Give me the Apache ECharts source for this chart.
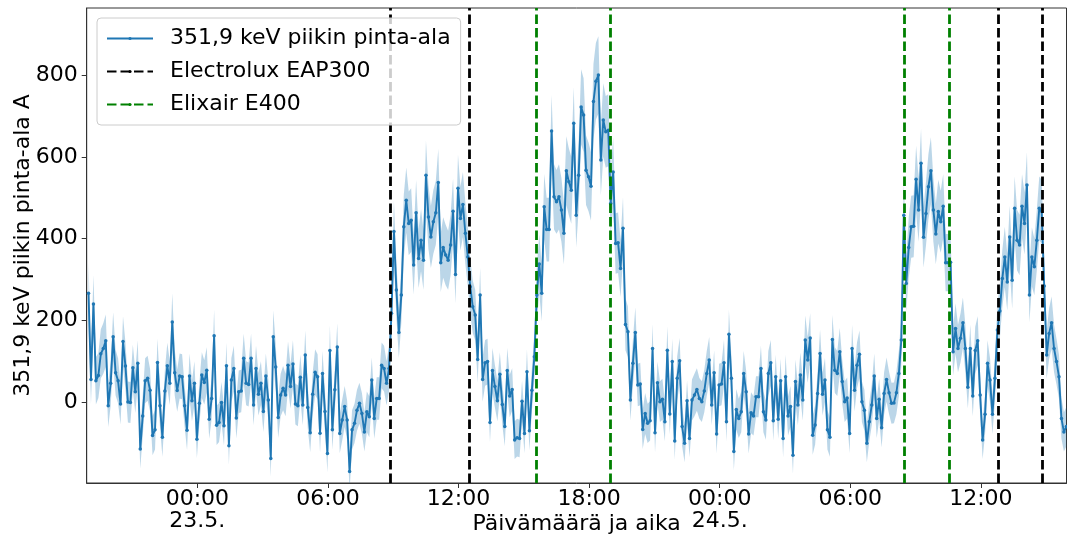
<!DOCTYPE html>
<html><head><meta charset="utf-8">
<script src="https://cdn.jsdelivr.net/npm/echarts@6/dist/echarts.min.js"></script>
<style>html,body{margin:0;padding:0;background:#fff}#c{width:1067px;height:537px}</style>
</head><body><div id="c"></div>
<script>
// ---- data ----
const firstSample = '22.5. 19:00';
const sampleStepMinutes = 6.79;
const axisStart = '22.5. 18:55';
const axisEnd = '24.5. 15:56';

// 351,9 keV peak area, consecutive samples
const areaNight1 = [266,55,240,52,65,118,131,150,-9,46,
 160,72,52,-5,148,88,0,-1,84,25,
 95,-115,-34,52,58,29,-82,-68,97,-9,
 -86,27,89,46,196,72,28,64,62,-9,
 -69,64,3,46,-91,-3,66,48,78,-42,
 9,162,-57,-50,-1,-58,89,-107,54,82,
 -39,25,27,107,46,43,107,-7,82,19,
 46,-23,64,5,-138,160,86,-38,17,34,
 17,90,38,93,-5,-9,61,-7,115,-13,
 -75,19,73,62,-76,70,-23,-126,126,-68,30];
const areaDay1 = [135,-77,-44,-11,-44,-170,-68,-52,-20,-3,
 -28,-73,-24,-36,54,-40,9,9,90,82,
 46,82,217,417,274,170,262,429,494,437,
 445,335,463,351,396,347,555,453,404,441,
 463,537,341,378,360,347,384,467,312,523,
 449,483,413,355,282,233,213,104,262,55,
 96,99,-50,77,38,3,68,-6,-60,77,
 15,31,-93,-87,-89,2,-77,74,-70,29,
 111,262,338,266,478,422,422,663,502,490,
 502,470,413,566,539,518,682,457];
const areaPeak = [555,722,702,567,551,528,735,785,800,592,690,661,665,486,563,388,390,327,425];
const areaNight2 = [190,172,5,95,170,42,44,-67,-28,-52,
 -46,131,-75,47,1,7,-48,127,-29,99,
 -95,58,101,-60,-101,3,-89,5,17,31,
 9,1,27,70,103,-7,72,-78,42,44,
 96,-48,166,58,-121,-18,-40,-24,70,25,
 -78,-26,-34,13,13,82,-24,-44,70,96,
 -46,62,-42,52,-89,62,-34,-11,-130,50,
 -7,66,5,152,103,157,-81,-56,21,119];
const areaMorning2 = [19,54,-68,-86,153,78,70,123,50,1,
 10,-77,131,29,90,117,1,-20,-101,-48,
 -7,64,-40,7,-63,21,55,23,-3,-2,
 23,70,152];
const areaDay2 = [457,290,378,429,430,545,470,584,403,461,
 527,566,470,411,466,441,479,341,341,342,
 123,180,131,156,194,131,36,131,15,126,
 150,17,-93,-30,95,54,-30,58,176,223,
 302,355,294,404,298,474,396,384,479,437,
 531,262,355,331,396,474,466,284,115,168,
 194,131,99,62,-40,-73,-60];

// uncertainty of each sample (half width of the band)
const errNight1 = [75,60,70,58,55,60,62,64,52,55,
 60,56,55,50,62,58,50,50,56,52,
 56,48,50,55,55,52,48,48,58,50,
 48,52,56,54,70,56,52,55,55,50,
 48,55,50,54,46,50,56,54,56,48,
 50,64,48,48,50,48,56,46,54,56,
 50,52,52,60,54,54,60,50,56,52,
 54,50,55,50,45,64,58,50,52,54,
 52,58,54,58,50,50,55,50,60,50,
 48,52,56,55,48,55,50,46,62,48,52];
const errDay1 = [58,48,50,50,48,45,48,48,50,50,
 50,48,50,50,55,50,52,52,56,56,
 54,56,64,76,68,62,68,78,80,78,
 78,72,80,72,76,72,84,78,76,78,
 78,82,72,74,74,72,74,80,70,82,
 78,80,76,72,68,64,62,56,66,54,
 56,56,48,55,52,50,54,50,48,55,
 52,52,46,46,46,50,48,55,48,52,
 58,68,72,68,80,78,78,88,80,78,
 80,78,76,84,82,82,88,78];
const errPeak = [84,92,90,85,84,84,92,94,95,86,90,88,88,78,84,74,74,70,76];
const errNight2 = [64,62,50,56,62,52,52,48,50,48,
 48,60,48,52,50,50,48,58,50,56,
 46,54,56,48,46,50,46,50,52,52,
 50,50,52,55,56,50,55,48,52,52,
 56,48,60,54,46,50,48,50,55,52,
 48,50,48,50,50,56,50,48,55,56,
 48,54,48,54,46,54,48,50,45,54,
 50,55,50,60,56,60,48,48,52,58];
const errMorning2 = [52,54,48,48,60,56,55,58,54,50,
 50,48,58,52,56,58,50,50,46,48,
 50,55,48,50,48,52,54,52,50,50,
 52,56,62];
const errDay2 = [78,68,74,76,76,82,78,84,74,78,
 80,82,78,74,78,76,78,70,70,70,
 58,62,58,60,62,58,52,58,50,58,
 60,50,46,48,56,54,48,54,62,66,
 70,74,70,76,70,78,74,74,78,76,
 80,66,72,70,74,78,78,68,58,62,
 64,58,56,54,50,48,48];

// purifier switch times
const electroluxTimes = ['23.5. 08:51','23.5. 12:29','24.5. 12:47','24.5. 14:49'];
const elixairTimes = ['23.5. 15:33','23.5. 18:58','24.5. 08:28','24.5. 10:32'];

const xTickHours = [0,6,12,18,24,30,36];
const dayLabels = {0:'23.5.', 24:'24.5.'};
const yTicks = [0,200,400,600,800];
const yMin = -198, yMax = 964;

const seriesName = '351,9 keV piikin pinta-ala';
const electroluxName = 'Electrolux EAP300';
const elixairName = 'Elixair E400';

// ---- build ----
function toHours(s){
  const m = s.match(/(\d+)\.(\d+)\.\s+(\d+):(\d+)/);
  return (Number(m[1]) - 23) * 24 + Number(m[3]) + Number(m[4]) / 60;
}
const values = [].concat(areaNight1, areaDay1, areaPeak, areaNight2, areaMorning2, areaDay2);
const errors = [].concat(errNight1, errDay1, errPeak, errNight2, errMorning2, errDay2);
const t0 = toHours(firstSample);
const xs = values.map((_, i) => t0 + i * sampleStepMinutes / 60);
const lineData = values.map((v, i) => [xs[i], v]);

const FONT = 'DejaVu Sans';
const pad2 = n => (n < 10 ? '0' : '') + n;
const dash = [9.5, 4];

const chart = echarts.init(document.getElementById('c'), null, {renderer: 'canvas'});
chart.setOption({
  animation: false,
  backgroundColor: '#ffffff',
  grid: {left: 86.7, right: 0.5, top: 8, bottom: 54, show: true, borderColor: '#333333', borderWidth: 1,
         backgroundColor: 'transparent', containLabel: false, outerBoundsMode: 'none'},
  legend: {
    orient: 'vertical', left: 97, top: 18, z: 20,
    data: [seriesName, electroluxName, elixairName],
    itemWidth: 46, itemHeight: 4, itemGap: 10,
    padding: [9, 10, 9, 9],
    backgroundColor: 'rgba(255,255,255,0.8)', borderColor: '#cccccc', borderWidth: 1, borderRadius: 4,
    textStyle: {fontFamily: FONT, fontSize: 22, color: '#000', lineHeight: 23, padding: [0, 0, 0, 12]},
    selectedMode: false
  },
  xAxis: {
    type: 'value', min: toHours(axisStart), max: toHours(axisEnd),
    name: 'Päivämäärä ja aika', nameLocation: 'middle', nameGap: 30, nameMoveOverlap: false,
    nameTextStyle: {fontFamily: FONT, fontSize: 22, color: '#000'},
    axisLine: {show: true, onZero: false, lineStyle: {color: '#333333', width: 1}},
    axisTick: {show: true, length: 5, lineStyle: {color: '#333333'}, customValues: xTickHours},
    axisLabel: {
      customValues: xTickHours, margin: 5, fontFamily: FONT, fontSize: 22, color: '#000', lineHeight: 22,
      formatter: function (v) {
        const h = Math.round(v);
        const hh = ((h % 24) + 24) % 24;
        let s = pad2(hh) + ':00';
        if (dayLabels[h] !== undefined) s += '\n' + dayLabels[h];
        return s;
      }
    },
    splitLine: {show: false}
  },
  yAxis: {
    type: 'value', min: yMin, max: yMax,
    name: '351,9 keV piikin pinta-ala A', nameLocation: 'middle', nameGap: 52, nameRotate: 90, nameMoveOverlap: false,
    nameTextStyle: {fontFamily: FONT, fontSize: 22, color: '#000'},
    axisLine: {show: true, onZero: false, lineStyle: {color: '#333333', width: 1}},
    axisTick: {show: true, length: 5, lineStyle: {color: '#333333'}, customValues: yTicks},
    axisLabel: {customValues: yTicks, margin: 9, fontFamily: FONT, fontSize: 22, color: '#000'},
    splitLine: {show: false}
  },
  series: [
    {
      type: 'custom', name: 'band', silent: true, z: 1, clip: true,
      data: [[xs[0], values[0]]],
      renderItem: function (params, api) {
        const pts = [];
        for (let i = 0; i < xs.length; i++) pts.push(api.coord([xs[i], values[i] + errors[i]]));
        for (let i = xs.length - 1; i >= 0; i--) pts.push(api.coord([xs[i], values[i] - errors[i]]));
        return {type: 'polygon', shape: {points: pts}, style: {fill: 'rgba(31,119,180,0.3)'}};
      }
    },
    {
      type: 'line', name: seriesName, data: lineData, z: 2,
      symbol: 'circle', symbolSize: 3.5, showSymbol: true,
      lineStyle: {color: '#1f77b4', width: 1.9},
      itemStyle: {color: '#1f77b4'}
    },
    {
      type: 'line', name: electroluxName, data: [], z: 3, symbol: 'none',
      lineStyle: {color: '#000000', width: 2.8, type: dash},
      itemStyle: {color: '#000000'},
      markLine: {
        silent: true, symbol: ['none', 'none'], label: {show: false}, animation: false,
        lineStyle: {color: '#000000', width: 2.8, type: dash},
        data: electroluxTimes.map(t => ({xAxis: toHours(t)}))
      }
    },
    {
      type: 'line', name: elixairName, data: [], z: 3, symbol: 'none',
      lineStyle: {color: '#008000', width: 2.8, type: dash},
      itemStyle: {color: '#008000'},
      markLine: {
        silent: true, symbol: ['none', 'none'], label: {show: false}, animation: false,
        lineStyle: {color: '#008000', width: 2.8, type: dash},
        data: elixairTimes.map(t => ({xAxis: toHours(t)}))
      }
    }
  ]
});
</script>
</body></html>
